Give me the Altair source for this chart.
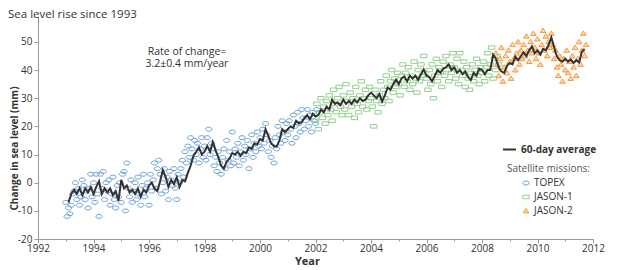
import altair as alt
import pandas as pd

FONT = "Open Sans"

# ---- data ----
missions = ["TOPEX", "JASON-1", "JASON-2"]
mission_colors = ["#6a9fd8", "#94cf8e", "#f59a3c"]
mission_fills = ["rgba(255,255,255,0)", "rgba(255,255,255,0)", "#fdd9b0"]
mission_shapes = [
    "M-1,0A1,0.62 0 1,1 1,0A1,0.62 0 1,1 -1,0Z",
    "M-1,-0.55L1,-0.55L1,0.55L-1,0.55Z",
    "M0,-0.8L0.9,0.6L-0.9,0.6Z",
]

sample_step = 0.05  # years between plotted measurements

topex_start = 1993.0
topex_vals = [
    -7, -12, -9, -11, -8, -4, -3, 0, -6, -2, -8, -5, 1, -1, -6, -3, -9, -2, 3, -5,
    0, -7, 3, -4, -12, 3, -2, 4, -6, 0, -3, 1, -8, -4, 2, -6, -9, -1, -5, 0,
    -7, 3, 4, -10, 7, -2, -5, 1, -7, -3, 0, -6, 2, -4, -8, -1, 3, -5, -2, 0,
    -8, 3, -3, 1, 7, -2, 5, 8, 3, -4, 0, 5, -3, 2, -6, 4, 1, -1, 5, -2,
    -6, 3, 0, 5, 8, 2, 11, 7, 13, 9, 16, 12, 8, 15, 10, 14, 7, 12, 16, 9,
    13, 8, 16, 19, 10, 14, 12, 6, 9, 4, 11, 7, 3, 9, 12, 5, 15, 8, 11, 6,
    18, 7, 12, 9, 14, 6, 11, 16, 8, 13, 10, 15, 5, 12, 17, 9, 14, 11, 18, 13,
    16, 12, 19, 14, 21, 17, 11, 15, 9, 13, 7, 16, 12, 20, 17, 14, 22, 18, 15, 21,
    17, 22, 19, 14, 24, 20, 16, 25, 21, 18, 26, 23, 19, 22, 26, 20, 24, 18, 25, 22,
    21, 26,
]

jason1_start = 2002.0
jason1_vals = [
    22, 28, 19, 25, 30, 23, 27, 21, 29, 24, 31, 26, 22, 33, 28, 25, 30, 34, 27, 24,
    31, 26, 35, 29, 24, 32, 27, 30, 23, 34, 28, 25, 31, 36, 27, 30, 33, 26, 29, 34,
    30, 27, 20, 33, 29, 25, 31, 36, 28, 33, 30, 38, 34, 29, 36, 40, 32, 37, 34, 39,
    35, 31, 38, 42, 34, 39, 36, 41, 33, 38, 35, 43, 37, 32, 40, 36, 42, 38, 45, 39,
    37, 33, 40, 35, 42, 30, 38, 44, 36, 41, 39, 34, 43, 38, 45, 40, 36, 42, 39, 46,
    41, 37, 44, 35, 46, 40, 38, 43, 34, 41, 37, 33, 39, 42, 36, 40, 44, 38, 35, 41,
    39, 43, 36, 41, 46, 38, 42, 48, 37, 44, 40, 45, 42,
]

jason2_start = 2008.5
jason2_vals = [
    46, 42, 38, 44, 48, 36, 41, 45, 39, 47, 43, 37, 49, 44, 40, 46, 50, 42, 47, 44,
    49, 45, 52, 47, 43, 50, 46, 53, 48, 44, 51, 46, 42, 49, 54, 47, 52, 45, 50, 48,
    53, 49, 44, 47, 41, 38, 45, 42, 36, 44, 40, 47, 39, 43, 37, 45, 41, 48, 38, 44,
    50, 42, 47, 53, 45, 49,
]

avg_label = "60-day average"
avg_start = 1993.1
avg_step = 0.1
avg_vals = [
    -7, -4, -2.5, -4, -2, -4.5, -2, -3.5, -1.5,
    -4, -1.5, 0.5, -4, -2, -3.5, -2, -4.5, -3, -6.5,
    1.0, -2, -1, -3.5, -2.5, -4, -2, -5, -2.5, -3.5,
    -1, 0, -2, -3, 0.5, 4.5, 2, -1.5, 1, -0.5,
    2, -1.5, 1, 0.5, 3.5, 6, 9.5, 11, 12.5, 10,
    11, 13, 11, 14.5, 11.5, 9, 6, 5, 7.5, 8.5,
    10.5, 10, 11, 9.5, 11, 10.5, 12.5, 12, 14, 13.5,
    15.5, 15, 19, 16.5, 14, 13, 12.8, 15, 19, 18,
    19, 20, 19.5, 22, 21, 21.5, 23, 24, 22.5, 24.5,
    23.5, 24, 26, 25, 27, 26, 29.5, 28, 28.5, 27.5,
    29.5, 28, 29, 28, 29.5, 28.5, 30, 29, 29.5, 31,
    32, 31, 30, 31.5, 28.8, 31, 33.8, 33, 35, 36.6,
    35, 37, 37.7, 36, 38, 37, 38, 36.5, 38.5, 40.2,
    38, 37.5, 36, 38, 40, 39, 40.5, 41, 42, 40,
    41, 39, 40, 38.5, 39.5, 37.5, 36.5, 39, 38, 40.5,
    40, 38.5, 40, 40, 45.5, 44, 41, 39.5, 39, 41.5,
    42.5, 42, 44.8, 43.5, 45, 46.3, 45, 47, 48.4, 46,
    47, 45.5, 47.5, 47, 49, 51.6, 48, 44.8, 43.5, 43,
    44, 43, 43.8, 42.5, 43.5, 42.7, 46.6, 47.5,
]

chart_title = "Sea level rise since 1993"
note_lines = ["Rate of change=", "3.2\u00b10.4 mm/year"]
x_title = "Year"
y_title = "Change in sea level (mm)"
legend_title = "Satellite missions:"
x_domain = [1992, 2012]
y_domain = [-20, 59.2]
y_ticks = [-20, -10, 0, 10, 20, 30, 40, 50]
x_ticks = [1992 + 0.25 * i for i in range(81)]

# ---- tables ----
rows = []
for name, start, vals in [("TOPEX", topex_start, topex_vals),
                          ("JASON-1", jason1_start, jason1_vals),
                          ("JASON-2", jason2_start, jason2_vals)]:
    for i, v in enumerate(vals):
        rows.append({"year": round(start + i * sample_step, 3), "value": v, "mission": name})
pts_df = pd.DataFrame(rows)

avg_df = pd.DataFrame({
    "year": [round(avg_start + i * avg_step, 3) for i in range(len(avg_vals))],
    "value": avg_vals,
    "series": [avg_label] * len(avg_vals),
})

W, H = 555, 223
GREY = "#999999"
TXT = "#333333"

x_axis = alt.Axis(
    values=x_ticks, format="d",
    labelExpr="datum.value % 2 === 0 ? toString(datum.value) : ''",
    labelOverlap=False, labelFlush=False,
    tickSize={"condition": {"test": "datum.value % 2 === 0", "value": 4}, "value": 2},
    labelPadding=0, grid=False,
    domainColor=GREY, tickColor=GREY, labelColor=TXT,
    labelFont=FONT, labelFontSize=10,
    title=x_title, titleFont=FONT, titleFontSize=11, titleFontWeight="bold",
    titleColor=TXT, titleX=269, titleY=25, titleBaseline="alphabetic",
)
y_axis = alt.Axis(
    values=y_ticks, tickCount=8, labelExpr="toString(datum.value)",
    labelOverlap=False, labelFlush=False,
    tickSize=4, labelPadding=2, grid=False,
    domainColor=GREY, tickColor=GREY, labelColor=TXT,
    labelFont=FONT, labelFontSize=10,
    title=y_title, titleFont=FONT, titleFontSize=10, titleFontWeight="bold",
    titleColor=TXT, titleX=-21, titleY=132, titleAngle=270,
    titleBaseline="alphabetic", titleAlign="center",
)
x_scale = alt.Scale(domain=x_domain, nice=False, zero=False)
y_scale = alt.Scale(domain=y_domain, nice=False, zero=False)

mission_legend = alt.Legend(
    title=legend_title, orient="none", legendX=469, legendY=148, padding=0,
    titleFont=FONT, titleFontSize=10, titleFontWeight="normal", titleColor="#555555",
    titlePadding=4, labelFont=FONT, labelFontSize=10, labelColor=TXT,
    symbolOffset=14, labelOffset=3, rowPadding=4, symbolSize=40, symbolStrokeWidth=1,
)

points = alt.Chart(pts_df).mark_point(filled=False, strokeWidth=1, size=40, opacity=1).encode(
    x=alt.X("year:Q", scale=x_scale, axis=x_axis),
    y=alt.Y("value:Q", scale=y_scale, axis=y_axis),
    color=alt.Color("mission:N", scale=alt.Scale(domain=missions, range=mission_colors),
                    legend=mission_legend),
    shape=alt.Shape("mission:N", scale=alt.Scale(domain=missions, range=mission_shapes),
                    legend=mission_legend),
    fill=alt.Fill("mission:N", scale=alt.Scale(domain=missions, range=mission_fills),
                  legend=mission_legend),
)

line = alt.Chart(avg_df).mark_line(strokeWidth=2).encode(
    x=alt.X("year:Q", scale=x_scale, axis=x_axis),
    y=alt.Y("value:Q", scale=y_scale, axis=y_axis),
    stroke=alt.Stroke(
        "series:N",
        scale=alt.Scale(domain=[avg_label], range=["#333333"]),
        legend=alt.Legend(
            title=None, orient="none", legendX=464, legendY=126, padding=0,
            symbolType="stroke", symbolSize=169, symbolStrokeWidth=2,
            labelFont=FONT, labelFontSize=10, labelFontWeight="bold", labelColor=TXT,
            labelOffset=4,
        ),
    ),
)

note = alt.Chart(pd.DataFrame({"t": [note_lines]})).mark_text(
    font=FONT, fontSize=10.5, color=TXT, align="center", baseline="middle", lineHeight=12,
).encode(x=alt.value(149), y=alt.value(36), text="t")

title = alt.Chart(pd.DataFrame({"t": [chart_title]})).mark_text(
    font=FONT, fontSize=11.5, color=TXT, align="left", baseline="alphabetic",
).encode(x=alt.value(-30), y=alt.value(1.5), text="t")

chart = alt.layer(points, line, note, title).properties(
    width=W, height=H,
    autosize=alt.AutoSizeParams(type="none"),
    padding={"left": 30, "top": 8, "right": 12, "bottom": 30},
    background="white",
).configure_view(stroke=None)

chart.save("out.html", embed_options={"renderer": "svg", "actions": False})
